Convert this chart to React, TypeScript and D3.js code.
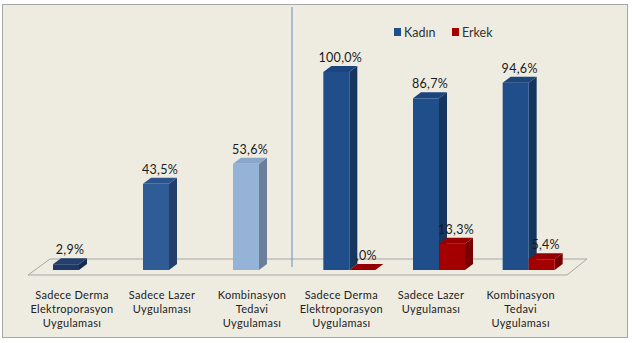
import * as d3 from "d3";

const categories = ["Sadece Derma Elektroporasyon Uygulaması", "Sadece Lazer Uygulaması", "Kombinasyon Tedavi Uygulaması"];
const categoryLines = [
  ["Sadece Derma", "Elektroporasyon", "Uygulaması"],
  ["Sadece Lazer", "Uygulaması"],
  ["Kombinasyon", "Tedavi", "Uygulaması"],
];
const overallValues = [2.9, 43.5, 53.6];
const series = ["Kadın", "Erkek"];
const kadinValues = [100.0, 86.7, 94.6];
const erkekValues = [0.0, 13.3, 5.4];

const W = 632;
const H = 343;
const base = 270;
const depthX = 8;
const depthY = 6;
const font = "Lato, 'Open Sans', sans-serif";

const leftColors = [
  { front: "#1f3864", top: "#243f6e", side: "#172b4d" },
  { front: "#2f5b96", top: "#2b548c", side: "#213f69" },
  { front: "#95b3d7", top: "#8aa6c9", side: "#6b7f9a" },
];
const seriesColors = [
  { front: "#1f4e8a", top: "#1b457c", side: "#16365f" },
  { front: "#a50000", top: "#960000", side: "#780000" },
];

const fmt = (v: number) => (v === 0 ? ",0%" : v.toFixed(1).replace(".", ",") + "%");

type BarSpec = { x: number; w: number; value: number; c: any };

function Bar3D({ x, w, value, c, y }: BarSpec & { y: d3.ScaleLinear<number, number> }) {
  const top = y(value);
  return (
    <g>
      <path
        d={`M${x + w},${top} L${x + w + depthX},${top - depthY} L${x + w + depthX},${base - depthY} L${x + w},${base} Z`}
        fill={c.side}
      />
      <rect x={x} y={top} width={w} height={base - top} fill={c.front} />
      <path
        d={`M${x},${top} L${x + depthX},${top - depthY} L${x + w + depthX},${top - depthY} L${x + w},${top} Z`}
        fill={c.top}
      />
    </g>
  );
}

export default function App() {
  const y = d3.scaleLinear().domain([0, 100]).range([base, 72]);
  const xLeft = d3.scaleBand<string>().domain(categories).range([21, 291]);
  const xRight = d3.scaleBand<string>().domain(categories).range([304.5, 573.5]);
  const barW = 26;
  const xSeries = d3.scaleBand<string>().domain(series).range([-barW, barW]);
  const rightVals = [kadinValues, erkekValues];

  const bars: BarSpec[] = [];
  categories.forEach((c, i) => {
    const cx = xLeft(c)! + xLeft.bandwidth() / 2;
    bars.push({ x: cx - barW / 2, w: barW, value: overallValues[i], c: leftColors[i] });
  });
  categories.forEach((c, i) => {
    const cx = xRight(c)! + xRight.bandwidth() / 2;
    series.forEach((s, si) => {
      bars.push({ x: cx + xSeries(s)!, w: xSeries.bandwidth(), value: rightVals[si][i], c: seriesColors[si] });
    });
  });

  const labelBlock = (cx: number, lines: string[], key: string) => (
    <text key={key} textAnchor="middle" fontSize={11} letterSpacing={0.3} fill="#222" fontFamily={font}>
      {lines.map((l, i) => (
        <tspan key={i} x={cx} y={299 + i * 14}>
          {l}
        </tspan>
      ))}
    </text>
  );

  return (
    <svg width={W} height={H} style={{ position: "absolute", left: 0, top: 0 }}>
      <rect x={2.5} y={4.5} width={625} height={333} fill="#eeece1" stroke="#a6a6a6" />
      {/* floor */}
      <path d="M50,259 L587,259 L567,275 L28,275 Z" fill="none" stroke="#a6a6a6" strokeWidth={1} />
      <line x1={292} x2={292} y1={7} y2={267} stroke="#7f9fc6" strokeWidth={1.2} />

      {bars.map((b, i) => (
        <Bar3D key={i} {...b} y={y} />
      ))}
      {bars.map((b, i) => (
        <text
          key={"v" + i}
          x={b.x + b.w / 2 + depthX / 2}
          y={y(b.value) - depthY - 4}
          textAnchor="middle"
          fontSize={12.5}
          letterSpacing={0.3}
          fill="#1a1a1a"
          fontFamily={font}
        >
          {fmt(b.value)}
        </text>
      ))}

      {categories.map((c, i) => labelBlock(xLeft(c)! + xLeft.bandwidth() / 2 + 6, categoryLines[i], "la" + i))}
      {categories.map((c, i) => labelBlock(xRight(c)! + xRight.bandwidth() / 2 - 8, categoryLines[i], "lb" + i))}

      {/* legend */}
      {series.map((s, i) => (
        <g key={s} transform={`translate(${394 + i * 58},28)`}>
          <rect width={7} height={8} fill={seriesColors[i].front} />
          <text x={10} y={8.5} fontSize={12.5} fill="#333" fontFamily={font}>
            {s}
          </text>
        </g>
      ))}
    </svg>
  );
}
